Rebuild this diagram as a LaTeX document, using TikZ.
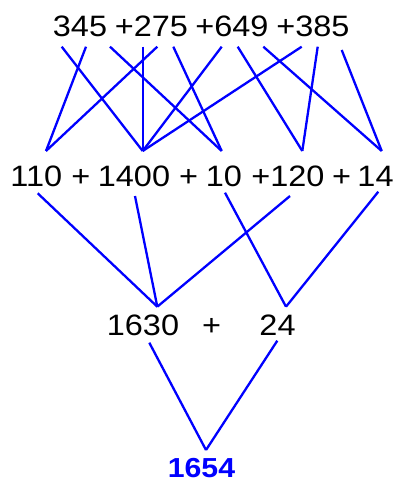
\documentclass[tikz,border=0pt]{standalone}
\usepackage{fontspec}
\setmainfont{Liberation Sans}
\begin{document}
\begin{tikzpicture}[x=1pt,y=-1pt,
  num/.style={inner sep=0pt,anchor=base,font=\fontsize{29.5}{30}\selectfont},
  res/.style={inner sep=0pt,anchor=base,text=blue,font=\fontsize{27.5}{28}\selectfont\bfseries},
  link/.style={draw=blue,line width=2.3pt}]
\useasboundingbox (0,0) rectangle (395,481);
% row 1
\node[num] (a1) at (80,37) {\scalebox{1.1}[1]{345}};
\node[num] (a2) at (151.5,37) {\scalebox{1.1}[1]{+275}};
\node[num] (a3) at (232,37) {\scalebox{1.1}[1]{+649}};
\node[num] (a4) at (313,37) {\scalebox{1.1}[1]{+385}};
% row 2
\node[num] (b1) at (36.3,186) {\scalebox{1.1}[1]{110}};
\node[num] (p1) at (80.8,186) {\scalebox{1.1}[1]{+}};
\node[num] (b2) at (134,186) {\scalebox{1.1}[1]{1400}};
\node[num] (p2) at (188.5,186) {\scalebox{1.1}[1]{+}};
\node[num] (b3) at (224,186) {\scalebox{1.1}[1]{10}};
\node[num] (b4) at (288,186) {\scalebox{1.1}[1]{+120}};
\node[num] (p3) at (341.5,186) {\scalebox{1.1}[1]{+}};
\node[num] (b5) at (375.5,186) {\scalebox{1.1}[1]{14}};
% row 3
\node[num] (c1) at (143,335) {\scalebox{1.1}[1]{1630}};
\node[num] (p4) at (211.5,335) {\scalebox{1.1}[1]{+}};
\node[num] (c2) at (277.5,335) {\scalebox{1.1}[1]{24}};
% result
\node[res] (d) at (201.5,477) {\scalebox{1.1}[1]{1654}};
% connector points
\coordinate (t1) at (61.7,46.7);
\coordinate (t2) at (86,46.7);
\coordinate (t3) at (110,46.7);
\coordinate (t4) at (142.7,46.7);
\coordinate (t5) at (157.3,46.7);
\coordinate (t6) at (173.3,46.7);
\coordinate (t7) at (221.7,46.7);
\coordinate (t8) at (237.7,46.7);
\coordinate (t9) at (263.3,46.7);
\coordinate (t10) at (301.7,46.7);
\coordinate (t11) at (317.7,46.7);
\coordinate (t12) at (341.7,50);
\coordinate (uA) at (46,151);
\coordinate (uB) at (142.7,151);
\coordinate (uC) at (221.7,151);
\coordinate (uD) at (302.3,151);
\coordinate (uE) at (381.7,151);
\coordinate (s1) at (37.7,193.3);
\coordinate (s2) at (135,196);
\coordinate (s3) at (225,192.7);
\coordinate (s4) at (290,196);
\coordinate (s5) at (378.3,191.7);
\coordinate (v1) at (157.3,306.7);
\coordinate (v2) at (286,306.7);
\coordinate (w1) at (149.3,342.7);
\coordinate (w2) at (277.3,340.7);
\coordinate (z) at (206,450);
% connectors row1 -> row2
\draw[link] (t1) -- (uB);
\draw[link] (t2) -- (uA);
\draw[link] (t3) -- (uC);
\draw[link] (t4) -- (uB);
\draw[link] (t5) -- (uA);
\draw[link] (t6) -- (uC);
\draw[link] (t7) -- (uB);
\draw[link] (t8) -- (uD);
\draw[link] (t9) -- (uE);
\draw[link] (t10) -- (uB);
\draw[link] (t11) -- (uD);
\draw[link] (t12) -- (uE);
% row2 -> row3
\draw[link] (s1) -- (v1);
\draw[link] (s2) -- (v1);
\draw[link] (s4) -- (v1);
\draw[link] (s3) -- (v2);
\draw[link] (s5) -- (v2);
% row3 -> result
\draw[link] (w1) -- (z);
\draw[link] (w2) -- (z);
\end{tikzpicture}
\end{document}
